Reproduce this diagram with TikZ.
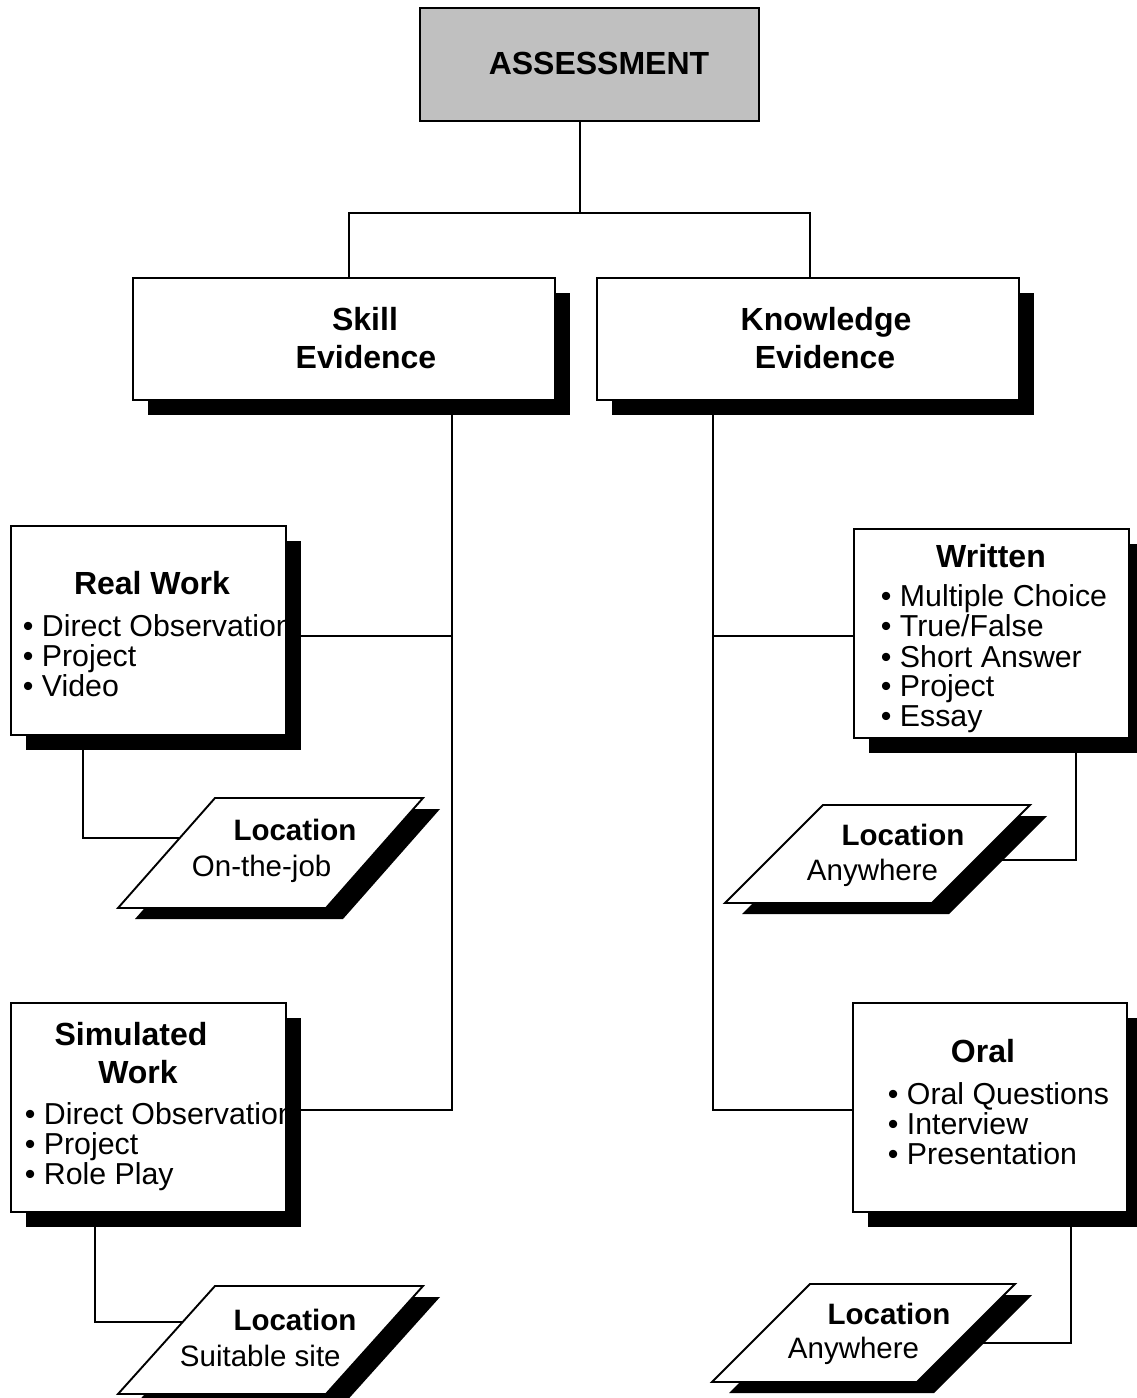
\documentclass[tikz,border=0pt]{standalone}
\usepackage{fontspec}
\setmainfont{Liberation Sans}
\usetikzlibrary{shadows,calc}
\definecolor{boxgray}{HTML}{C0C0C0}
\newcommand\hdfont{\fontsize{32}{38}\selectfont\bfseries}
\newcommand\lcfont{\fontsize{29.5}{30}\selectfont\bfseries}
\newcommand\txfont{\fontsize{29.5}{30}\selectfont}
\newcommand\itfont{\fontsize{30.3}{30}\selectfont}
% parallelogram with drop shadow: top-left x, top y, width, height, slant
\newcommand\locshape[5]{%
  \fill[black] (#1+17,#2+11) -- ++(#3,0) -- ++(-#5,#4) -- ++(-#3,0) -- cycle;
  \draw[fill=white] (#1,#2) -- ++(#3,0) -- ++(-#5,#4) -- ++(-#3,0) -- cycle;
}
\begin{document}
\begin{tikzpicture}[x=1pt,y=-1pt,line width=1.9pt,
  box/.style={draw=black,fill=white,rectangle,inner sep=0pt,line width=1.9pt},
  shbox/.style={box,drop shadow={shadow xshift=15pt,shadow yshift=-15pt,fill=black,opacity=1}},
  lbl/.style={inner sep=0pt,anchor=base},
  lbw/.style={inner sep=0pt,anchor=base west,font=\txfont},
  item/.style={inner sep=0pt,anchor=base west,font=\itfont}]
\fill[white] (0,0) rectangle (1136,1398);
\useasboundingbox (0,0) rectangle (1136,1398);

% junction points of the tree
\coordinate (j0) at (580,213);
\coordinate (jl) at (349,213);
\coordinate (jr) at (810,213);
\coordinate (s1) at (452,636);
\coordinate (s2) at (452,1110);
\coordinate (k1) at (713,636);
\coordinate (k2) at (713,1110);
\coordinate (c1) at (83,838);   \coordinate (l1) at (180,838);
\coordinate (c3) at (95,1322);  \coordinate (l3) at (183,1322);
\coordinate (c2) at (1076,860); \coordinate (l2) at (972,860);
\coordinate (c4) at (1071,1343);\coordinate (l4) at (954,1343);

% boxes (placed first so connectors can refer to them)
\node[box,fill=boxgray,minimum width=339pt,minimum height=113pt] (assess) at (589.5,64.5) {};
\node[shbox,minimum width=422pt,minimum height=122pt] (skill) at (344,339) {};
\node[shbox,minimum width=422pt,minimum height=122pt] (know) at (808,339) {};
\node[shbox,minimum width=275pt,minimum height=209pt] (rw) at (148.5,630.5) {};
\node[shbox,minimum width=275pt,minimum height=209pt] (wr) at (991.5,633.5) {};
\node[shbox,minimum width=275pt,minimum height=209pt] (sw) at (148.5,1107.5) {};
\node[shbox,minimum width=274pt,minimum height=209pt] (or) at (990,1107.5) {};

% connectors
\draw (j0 |- assess.south) -- (j0);
\draw (jl |- skill.north) -- (jl) -- (jr) -- (jr |- know.north);
\draw (s1 |- skill.south) -- (s2) -- (s2 -| sw.east);
\draw (s1 -| rw.east) -- (s1);
\draw (k1 |- know.south) -- (k2) -- (k2 -| or.west);
\draw (k1) -- (k1 -| wr.west);
\draw (c1 |- rw.south) -- (c1) -- (l1);
\draw (c3 |- sw.south) -- (c3) -- (l3);
\draw (c2 |- wr.south) -- (c2) -- (l2);
\draw (c4 |- or.south) -- (c4) -- (l4);

% location shapes
\locshape{215}{798}{208}{110}{97}
\locshape{823}{805}{207}{98}{98}
\locshape{215}{1286}{208}{108}{97}
\locshape{810}{1284}{205}{98}{98}

% texts
\node[lbl,font=\hdfont] (tA) at (599,74) {ASSESSMENT};
\node[lbl,font=\hdfont] (tS1) at (365,330) {Skill};
\node[lbl,font=\hdfont] (tS2) at (366,368) {Evidence};
\node[lbl,font=\hdfont] (tK1) at (826,330) {Knowledge};
\node[lbl,font=\hdfont] (tK2) at (825,368) {Evidence};

\node[lbl,font=\hdfont] (tR) at (152,594) {Real Work};
\node[item] (tR1) at (22,636) {• Direct Observation};
\node[item] (tR2) at (22,666) {• Project};
\node[item] (tR3) at (22,696) {• Video};

\node[lbl,font=\hdfont] (tW) at (991,567) {Written};
\node[item] (tW1) at (880,606) {• Multiple Choice};
\node[item] (tW2) at (880,636) {• True/False};
\node[item] (tW3) at (880,667) {• Short Answer};
\node[item] (tW4) at (880,696) {• Project};
\node[item] (tW5) at (880,726) {• Essay};

\node[lbl,font=\hdfont] (tSm1) at (131,1045) {Simulated};
\node[lbl,font=\hdfont] (tSm2) at (138,1083) {Work};
\node[item] (tSm3) at (24,1124) {• Direct Observation};
\node[item] (tSm4) at (24,1154) {• Project};
\node[item] (tSm5) at (24,1184) {• Role Play};

\node[lbl,font=\hdfont] (tO) at (983,1062) {Oral};
\node[item] (tO1) at (887,1104) {• Oral Questions};
\node[item] (tO2) at (887,1134) {• Interview};
\node[item] (tO3) at (887,1164) {• Presentation};

\node[lbl,font=\lcfont] (tL1) at (295,840) {Location};
\node[lbw] (tL1b) at (191,876) {On-the-job};
\node[lbl,font=\lcfont] (tL2) at (903,845) {Location};
\node[lbw] (tL2b) at (806,880) {Anywhere};
\node[lbl,font=\lcfont] (tL3) at (295,1330) {Location};
\node[lbw] (tL3b) at (179,1366) {Suitable site};
\node[lbl,font=\lcfont] (tL4) at (889,1324) {Location};
\node[lbw] (tL4b) at (787,1358) {Anywhere};
\end{tikzpicture}
\end{document}
